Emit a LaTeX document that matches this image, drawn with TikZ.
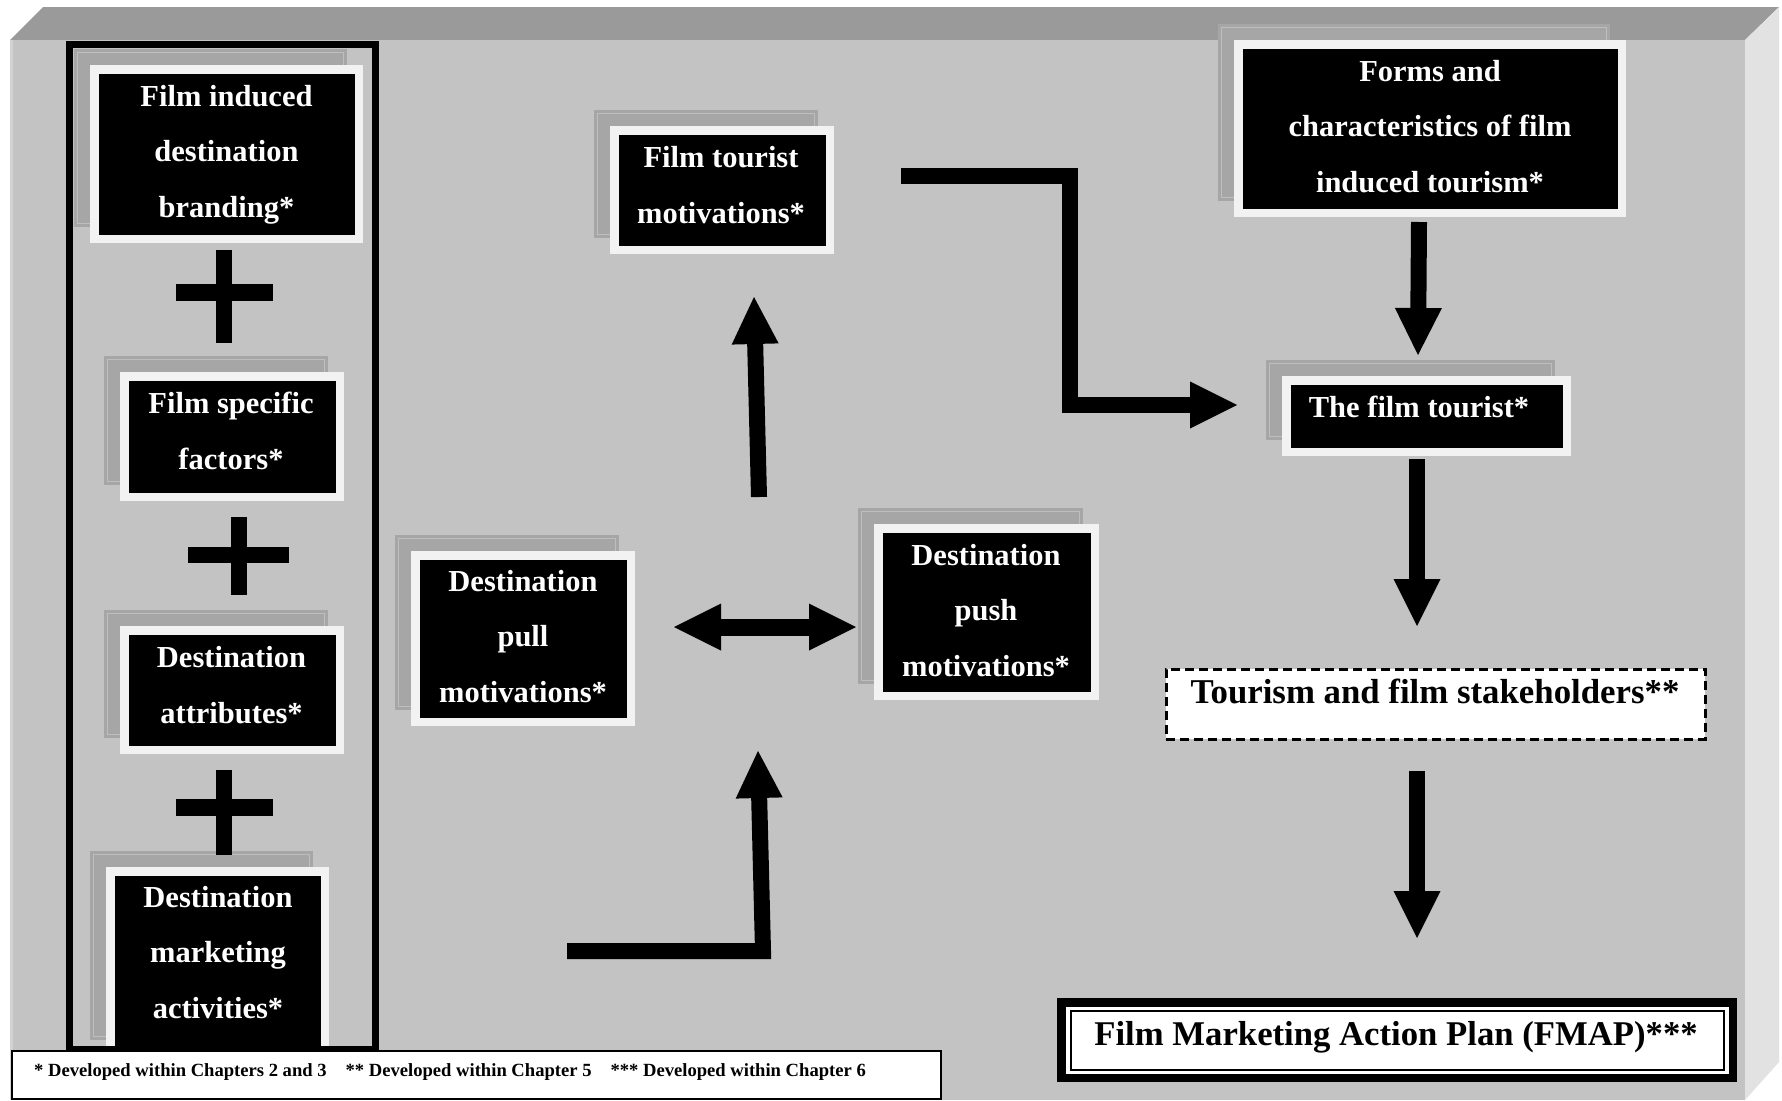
\documentclass[tikz,border=0pt]{standalone}
\usepackage{fontspec}
\setmainfont{Liberation Serif}
\usetikzlibrary{calc}

\definecolor{facegray}{HTML}{C3C3C3}
\definecolor{topgray}{HTML}{9A9A9A}
\definecolor{sidegray}{HTML}{E2E2E2}
\definecolor{edgegray}{HTML}{D2D2D2}
\definecolor{framewhite}{HTML}{F2F2F2}
\definecolor{shadegray}{HTML}{A6A6A6}
\definecolor{shadeline}{HTML}{BEBEBE}

% strut giving every text line the same height and depth
\newcommand\rs{\rule[-17.9pt]{0pt}{55.4pt}}

\tikzset{
  card/.style={fill=black, draw=framewhite, line width=8.5pt, inner sep=0pt},
  cardshadow/.style={fill=shadegray, draw=none, inner sep=0pt},
  cardtext/.style={text=white, font=\bfseries\fontsize{30.5}{55.4}\selectfont,
                   align=center, inner sep=0pt},
  shaft/.style={draw=black, line width=16pt, line join=miter},
  plainbox/.style={inner sep=0pt},
}

% card: name, centre x, centre y, outer width, outer height
\newcommand\card[5]{%
  \node[cardshadow, minimum width=#4pt, minimum height=#5pt] (#1-sh) at (#2-16,#3-16) {};
  \draw[shadeline, line width=0.8pt] ($(#1-sh.north west)+(3.5,3.5)$) rectangle ($(#1-sh.south east)+(-3.5,-3.5)$);
  \node[card, minimum width=#4pt-8.5pt, minimum height=#5pt-8.5pt] (#1) at (#2,#3) {};
}

% triangular head from #1 towards tip #2; leaves (hb) at the head base
\newcommand\headto[2]{%
  \coordinate (hb) at ($(#2)!47pt!(#1)$);
  \fill ($(hb)!23.5pt!90:(#2)$) -- (#2) -- ($(hb)!23.5pt!-90:(#2)$) -- cycle;
}

\begin{document}
\begin{tikzpicture}[x=1pt,y=-1pt]
\useasboundingbox (0,0) rectangle (1782,1100);
\fill[white] (0,0) rectangle (1782,1100);

% raised panel
\fill[topgray] (10,40) -- (43,7) -- (1779,7) -- (1745,40) -- cycle;
\fill[sidegray] (1745,40) -- (1779,7) -- (1779,1062) -- (1745,1100) -- cycle;
\fill[facegray] (10,40) rectangle (1745,1100);
\fill[edgegray] (10,40) rectangle (13,1100);

% cards
\card{brand}{226.5}{154}{273}{178}
\card{specific}{232}{436.5}{224}{129}
\card{attrib}{232}{690}{224}{128}
\card{dmark}{217.5}{961.5}{223}{189}
\card{ftmot}{722}{190}{224}{128}
\card{forms}{1430}{128.5}{392}{177}
\card{tourist}{1426.5}{416}{289}{80}
\card{pull}{523}{638.5}{224}{175}
\card{push}{986.5}{612}{225}{176}

\node[cardtext] (brand-t) at (226.5,151.8) {\rs Film induced\\\rs destination\\\rs branding*};
\node[cardtext] (specific-t) at (231,431.5) {\rs Film specific\\\rs factors*};
\node[cardtext] (attrib-t) at (231.5,685.5) {\rs Destination\\\rs attributes*};
\node[cardtext] (dmark-t) at (218,953) {\rs Destination\\\rs marketing\\\rs activities*};
\node[cardtext] (ftmot-t) at (721,185.5) {\rs Film tourist\\\rs motivations*};
\node[cardtext] (forms-t) at (1430,126.8) {\rs Forms and\\\rs characteristics of film\\\rs induced tourism*};
\node[cardtext] (tourist-t) at (1419,407.3) {\rs The film tourist*};
\node[cardtext] (pull-t) at (523,636.8) {\rs Destination\\\rs pull\\\rs motivations*};
\node[cardtext] (push-t) at (986,611) {\rs Destination\\\rs push\\\rs motivations*};

% left column frame
\node[draw=black, line width=7pt, minimum width=306pt, minimum height=1005pt, inner sep=0pt] (column) at (222,546.5) {};

% plus signs
\fill (216,250) rectangle (232,343);  \fill (176,284) rectangle (273,301);
\fill (231,517) rectangle (247,595);  \fill (188,547) rectangle (289,563);
\fill (216,770) rectangle (232,855);  \fill (176,799) rectangle (273,816);

% pull -> film tourist motivations
\coordinate (a1s) at (759,497);
\coordinate (a1t) at (754,297);
\headto{a1s}{a1t}
\draw[shaft] (a1s) -- (hb);

% from below up towards the double arrow
\coordinate (a2s) at (567,951);
\coordinate (a2c) at (763,951);
\coordinate (a2t) at (758,751);
\headto{a2c}{a2t}
\draw[shaft] (a2s) -- (a2c) -- (hb);

% pull <-> push
\coordinate (dm) at (765,627);
\coordinate (dl) at (674,627);
\coordinate (dr) at (856,627);
\headto{dm}{dl}
\draw[shaft, line width=17pt] (dm) -- (hb);
\headto{dm}{dr}
\draw[shaft, line width=17pt] (dm) -- (hb);

% film tourist motivations -> the film tourist
\coordinate (a3s) at (901,176);
\coordinate (a3c) at (1069.5,176);
\coordinate (a3d) at (1069.5,405);
\coordinate (a3t) at (1237,405);
\headto{a3d}{a3t}
\draw[shaft] (a3s) -- (a3c) -- (a3d) -- (hb);

% forms -> the film tourist
\coordinate (a4s) at (1419,222);
\coordinate (a4t) at (1418,355);
\headto{a4s}{a4t}
\draw[shaft] (a4s) -- (hb);

% the film tourist -> stakeholders
\coordinate (a5s) at (1417,459);
\coordinate (a5t) at (1417,626);
\headto{a5s}{a5t}
\draw[shaft] (a5s) -- (hb);

% stakeholders -> FMAP
\coordinate (a6s) at (1417,771);
\coordinate (a6t) at (1417,938);
\headto{a6s}{a6t}
\draw[shaft] (a6s) -- (hb);

% stakeholders
\node[plainbox, draw=black, fill=white, line width=3pt, dash pattern=on 9pt off 5pt,
      minimum width=539pt, minimum height=70pt] (stake) at (1435.5,704) {};
\node[plainbox, anchor=base, font=\bfseries\fontsize{34.8}{40}\selectfont] (stake-t) at (1435,703)
  {Tourism and film stakeholders**};

% FMAP
\node[plainbox, fill=black, minimum width=680pt, minimum height=84pt] (fmap-o) at (1397,1040) {};
\node[plainbox, fill=white, minimum width=663pt, minimum height=67pt] (fmap-w) at (1397.5,1040.5) {};
\node[plainbox, draw=black, line width=1.5pt, minimum width=653pt, minimum height=59pt] (fmap) at (1397.5,1040.5) {};
\node[plainbox, anchor=base, font=\bfseries\fontsize{34.7}{40}\selectfont] (fmap-t) at (1396,1045)
  {Film Marketing Action Plan (FMAP)***};

% footnotes
\node[plainbox, draw=black, fill=white, line width=1.8pt, minimum width=929pt, minimum height=48pt] (notes) at (476.5,1075) {};
\node[plainbox, anchor=base west, font=\bfseries\fontsize{18.6}{22}\selectfont] (notes-t) at (34,1076)
  {* Developed within Chapters 2 and 3\hspace{19pt}** Developed within Chapter 5\hspace{19pt}*** Developed within Chapter 6};
\end{tikzpicture}
\end{document}
